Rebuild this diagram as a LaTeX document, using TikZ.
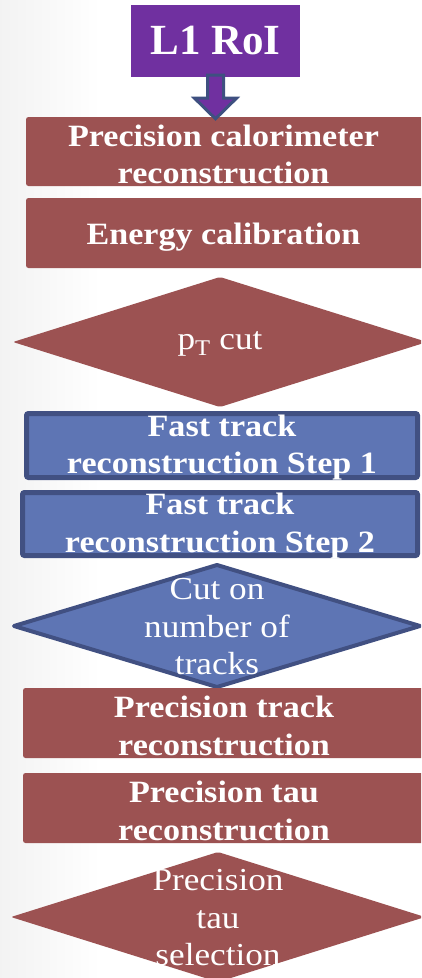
\documentclass[tikz,border=0pt]{standalone}
\usepackage{fontspec}
\setmainfont[FakeStretch=1.1]{Liberation Serif}
\newfontfamily\roifont{Liberation Serif}
\usetikzlibrary{calc}

\definecolor{roipurple}{HTML}{7030A0}
\definecolor{calored}{HTML}{9C5252}
\definecolor{trackblue}{HTML}{5E75B4}
\definecolor{trackedge}{HTML}{415082}
\definecolor{arrowedge}{HTML}{3E5080}

\tikzset{
  boxfont/.style={font=\bfseries\fontsize{31}{37.5}\selectfont},
  cutfont/.style={font=\fontsize{32}{37.5}\selectfont},
  redbox/.style={rectangle, fill=calored, rounded corners=2.5pt, inner sep=0pt},
  bluebox/.style={rectangle, fill=trackblue, draw=trackedge, line width=5pt,
    rounded corners=2pt, inner sep=0pt},
  boxtext/.style={text=white, align=center, inner sep=0pt, boxfont},
  cuttext/.style={text=white, align=center, inner sep=0pt, cutfont},
}

\begin{document}
\begin{tikzpicture}[x=1pt, y=-1pt]
  \useasboundingbox (0,0) rectangle (421,978);
  \clip (0,0) rectangle (421,978);
  % page background with a faint grey edge on the left
  \fill[white] (0,0) rectangle (421,978);
  \shade[left color=black!5, right color=white] (0,0) rectangle (100,978);

  % region of interest from level 1
  \node[rectangle, fill=roipurple, text=white, inner sep=0pt,
        minimum width=169pt, minimum height=72pt,
        font=\roifont\bfseries\fontsize{43}{43}\selectfont] (roi) at (215.5,41) {L1 RoI};

  % calorimeter stage
  \node[redbox, minimum width=399pt, minimum height=69pt] (calo) at (225.5,151.5) {};
  \node[boxtext] (calotext) at ($(calo.center)+(-2,3)$)
    {Precision calorimeter\\reconstruction};
  \node[redbox, minimum width=399pt, minimum height=70pt] (ecal) at (225.5,233) {};
  \node[boxtext] (ecaltext) at ($(ecal.center)+(-2,4)$) {Energy calibration};

  % block arrow from the RoI into the calorimeter step
  \coordinate (tip) at (calo.north -| roi.south);
  \filldraw[fill=roipurple, draw=arrowedge, line width=3pt, line join=miter]
    ($(roi.south)+(-8,-2)$) -- ($(roi.south)+(8,-2)$) --
    ($(roi.south)+(8,21)$) -- ($(roi.south)+(21,21)$) --
    ($(tip)+(0,2)$) --
    ($(roi.south)+(-21,21)$) -- ($(roi.south)+(-8,21)$) -- cycle;

  % transverse momentum cut
  \coordinate (ptc) at (220,342);
  \fill[calored, rounded corners=2pt]
    ($(ptc)+(-207,0)$) -- ($(ptc)+(0,-65)$) -- ($(ptc)+(207,0)$) -- ($(ptc)+(0,65)$) -- cycle;
  \node[cuttext] (ptcut) at ($(ptc)+(0,2)$) {p\textsubscript{T} cut};

  % fast tracking
  \node[bluebox, minimum width=391pt, minimum height=64pt] (ft1) at (222,445.5) {};
  \node[boxtext] (ft1text) at ($(ft1.center)+(0,2)$) {Fast track\\reconstruction Step 1};
  \node[bluebox, minimum width=395pt, minimum height=63pt] (ft2) at (220,524) {};
  \node[boxtext] (ft2text) at ($(ft2.center)+(0,2)$) {Fast track\\reconstruction Step 2};

  % track multiplicity cut
  \coordinate (ntc) at (217,626);
  \filldraw[fill=trackblue, draw=trackedge, line width=4pt, line join=round]
    ($(ntc)+(-203,0)$) -- ($(ntc)+(0,-61)$) -- ($(ntc)+(203,0)$) -- ($(ntc)+(0,61)$) -- cycle;
  \node[cuttext] (ntcut) at ($(ntc)+(0,1)$) {Cut on\\number of\\tracks};

  % precision stages
  \node[redbox, minimum width=402pt, minimum height=70pt] (ptrk) at (224,723) {};
  \node[boxtext] (ptrktext) at ($(ptrk.center)+(0,3)$) {Precision track\\reconstruction};
  \node[redbox, minimum width=402pt, minimum height=70pt] (ptau) at (224,808) {};
  \node[boxtext] (ptautext) at ($(ptau.center)+(0,3)$) {Precision tau\\reconstruction};

  % final selection
  \coordinate (selc) at (218,917);
  \fill[calored, rounded corners=2pt]
    ($(selc)+(-207,0)$) -- ($(selc)+(0,-65)$) -- ($(selc)+(207,0)$) -- ($(selc)+(0,65)$) -- cycle;
  \node[cuttext] (tausel) at ($(selc)+(0,1)$) {Precision\\tau\\selection};
\end{tikzpicture}
\end{document}
